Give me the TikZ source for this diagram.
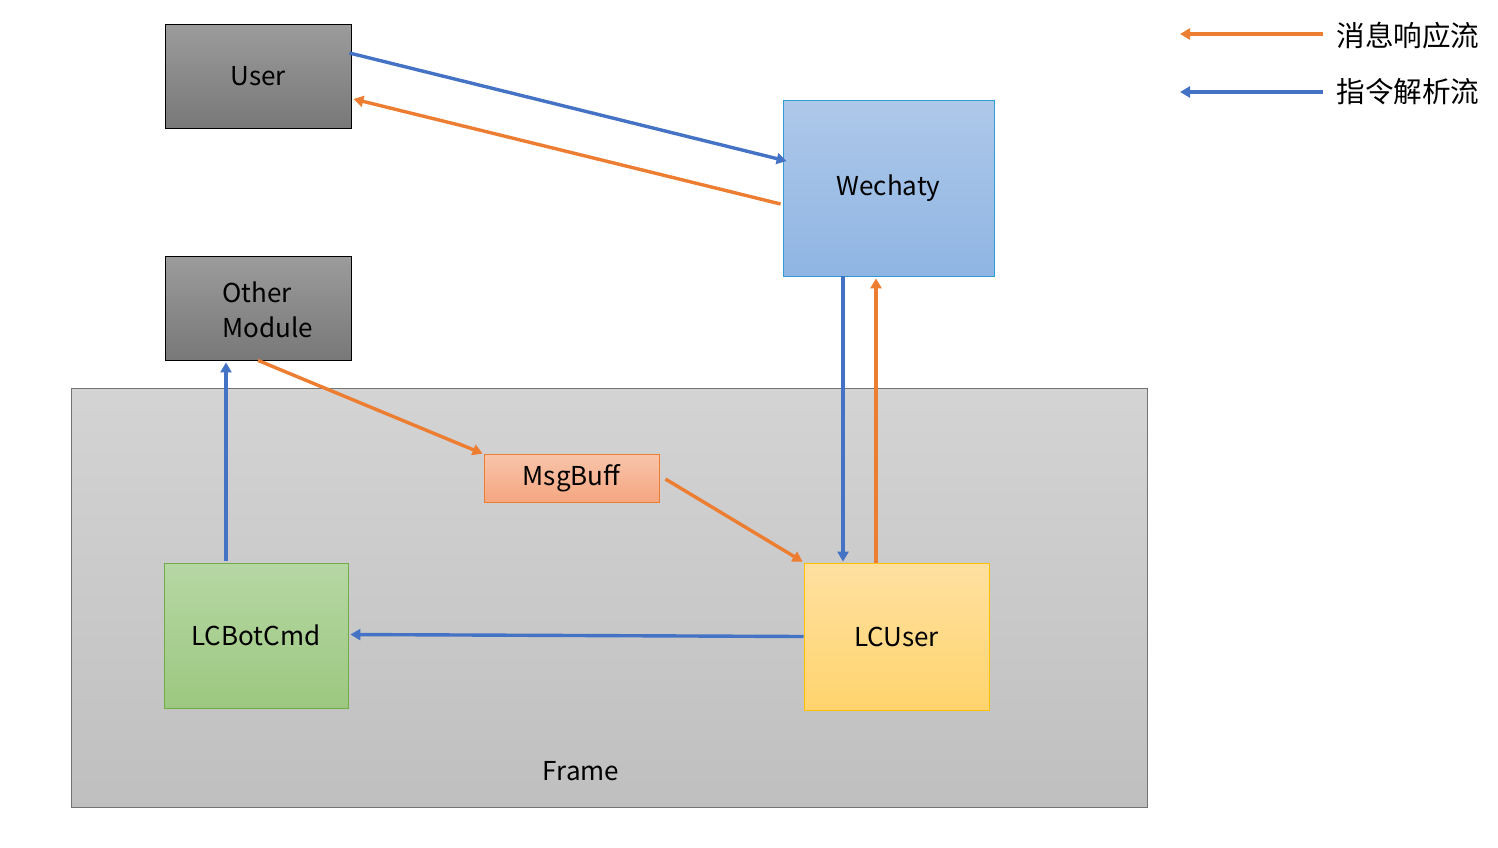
\documentclass[tikz,border=0pt]{standalone}
\usepackage{fontspec}
\setmainfont{Noto Sans CJK SC}
\usetikzlibrary{arrows.meta}
\definecolor{ora}{HTML}{ED7D31}
\definecolor{blu}{HTML}{4472C4}
\tikzset{
  box/.style={rectangle, draw, line width=0.8pt, inner sep=0pt, font=\fontsize{26}{35}\selectfont},
  flow/.style={line width=3.4pt, -{Triangle[length=10pt,width=11pt]}},
  oflow/.style={flow, ora},
  bflow/.style={flow, blu},
}
\begin{document}
\begin{tikzpicture}[x=1pt,y=-1pt]
\useasboundingbox (0,0) rectangle (1498,847);
\node[box, draw=black!55, top color=black!17, bottom color=black!25, minimum width=1076pt, minimum height=419pt] (frame) at (609,597.5) {};
\node[font=\fontsize{26}{32}\selectfont] (framelbl) at (581,771) {Frame};
\node[box, draw=black, top color=black!39, bottom color=black!53, minimum width=186pt, minimum height=104pt] (user) at (258,76) {User};
\node[box, draw=black, top color=black!39, bottom color=black!53, minimum width=186pt, minimum height=104pt] (other) at (258,308) {};
\node[font=\fontsize{26}{35}\selectfont, align=left, anchor=west] (otherlbl) at (219,310) {Other\\Module};
\node[box, draw=blu!70!cyan, top color={rgb,255:red,174;green,200;blue,233}, bottom color={rgb,255:red,143;green,181;blue,227}, minimum width=211pt, minimum height=176pt] (wechaty) at (888.5,188) {Wechaty};
\node[box, draw=ora, top color={rgb,255:red,248;green,196;blue,170}, bottom color={rgb,255:red,245;green,166;blue,128}, minimum width=175pt, minimum height=48pt] (msg) at (571.5,478) {MsgBuff};
\node[box, draw={rgb,255:red,112;green,173;blue,71}, top color={rgb,255:red,182;green,215;blue,164}, bottom color={rgb,255:red,156;green,200;blue,128}, minimum width=184pt, minimum height=145pt] (bot) at (256,635.5) {LCBotCmd};
\node[box, draw={rgb,255:red,255;green,192;blue,0}, top color={rgb,255:red,255;green,224;blue,160}, bottom color={rgb,255:red,255;green,212;blue,110}, minimum width=185pt, minimum height=147pt] (lcuser) at (896.5,636.5) {LCUser};
% connectors
\draw[bflow] ([yshift=23pt,xshift=-2pt]user.east) -- ([yshift=27pt,xshift=4pt]wechaty.west);
\draw[oflow] ([yshift=-16pt,xshift=-2pt]wechaty.west) -- ([yshift=-23pt,xshift=2pt]user.east);
\draw[bflow] ([xshift=-45.5pt]wechaty.south) -- ([xshift=-53.5pt,yshift=1pt]lcuser.north);
\draw[oflow] ([xshift=-20.5pt]lcuser.north) -- ([xshift=-12.5pt,yshift=-2pt]wechaty.south);
\draw[oflow] (other.south) -- ([xshift=-1pt]msg.north west);
\draw[oflow] ([xshift=6pt,yshift=-1pt]msg.east) -- ([xshift=-1pt,yshift=1pt]lcuser.north west);
\draw[bflow] (lcuser.west) -- ([xshift=2pt,yshift=1pt]bot.east);
\draw[bflow] ([xshift=-30pt,yshift=2pt]bot.north) -- ([xshift=-32pt,yshift=-2pt]other.south);
% legend
\node[font=\fontsize{28.6}{32}\selectfont, anchor=west] (leg1) at (1333,36) {消息响应流};
\node[font=\fontsize{28.6}{32}\selectfont, anchor=west] (leg2) at (1333,92) {指令解析流};
\coordinate (leg1end) at (1180,34);
\coordinate (leg2end) at (1180,92);
\draw[oflow] ([xshift=-10pt,yshift=2pt]leg1.west) -- (leg1end);
\draw[bflow] ([xshift=-10pt]leg2.west) -- (leg2end);
\end{tikzpicture}
\end{document}
